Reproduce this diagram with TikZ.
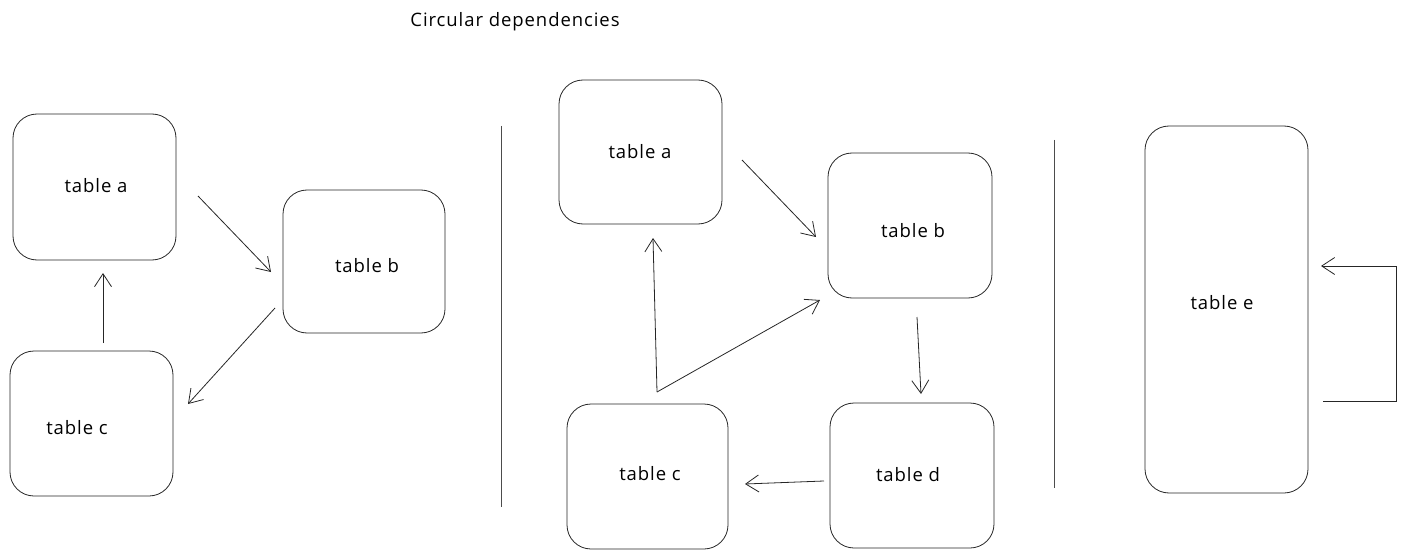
\documentclass[tikz,border=0pt]{standalone}
\usepackage{fontspec}
\setmainfont{Open Sans}[LetterSpace=5]
\usetikzlibrary{arrows.meta}
\begin{document}
\begin{tikzpicture}[x=1pt,y=-1pt,
  tbl/.style={draw=black!85,line width=0.8pt,rounded corners=24pt,inner sep=0pt},
  lbl/.style={font=\fontsize{18.5}{22}\selectfont},
  conn/.style={draw=black!85,line width=0.8pt,-{Straight Barb[length=13pt,width=17pt,line width=0.8pt]}},
  divider/.style={draw=black!70,line width=0.8pt}]
\useasboundingbox (0,0) rectangle (1406,559);
\node[lbl] (title) at (515,22) {Circular dependencies};
% left group
\draw[tbl] (13,114) rectangle (176,260);
\node[lbl] (la) at (96,186) {table a};
\draw[tbl] (283,190) rectangle (445,333);
\node[lbl] (lb) at (367,266) {table b};
\draw[tbl] (10,351) rectangle (173,496);
\node[lbl] (lc) at (77,428) {table c};
\coordinate (la1) at (198,196); \coordinate (la2) at (271,272);
\coordinate (lb1) at (275,308); \coordinate (lb2) at (188,404);
\coordinate (lc1) at (103,343); \coordinate (lc2) at (103,273);
\draw[conn] (la1) -- (la2);
\draw[conn] (lb1) -- (lb2);
\draw[conn] (lc1) -- (lc2);
\coordinate (d1t) at (501,126); \coordinate (d1b) at (501,507);
\draw[divider] (d1t) -- (d1b);
% middle group
\draw[tbl] (559,80) rectangle (722,224);
\node[lbl] (ma) at (640,152) {table a};
\draw[tbl] (828,153) rectangle (992,298);
\node[lbl] (mb) at (913,231) {table b};
\draw[tbl] (567,404) rectangle (728,549);
\node[lbl] (mc) at (650,474) {table c};
\draw[tbl] (830,403) rectangle (994,548);
\node[lbl] (md) at (908,475) {table d};
\coordinate (ma1) at (742,160); \coordinate (ma2) at (816,237);
\coordinate (mb1) at (917,317); \coordinate (mb2) at (921,394);
\coordinate (md1) at (824,481); \coordinate (md2) at (745,484);
\coordinate (mc1) at (657,392); \coordinate (mc2) at (653,238);
\coordinate (mc3) at (820,300);
\draw[conn] (ma1) -- (ma2);
\draw[conn] (mb1) -- (mb2);
\draw[conn] (md1) -- (md2);
\draw[conn] (mc1) -- (mc2);
\draw[conn] (mc1) -- (mc3);
\coordinate (d2t) at (1054,140); \coordinate (d2b) at (1054,488);
\draw[divider] (d2t) -- (d2b);
% right group
\draw[tbl] (1145,126) rectangle (1308,493);
\node[lbl] (re) at (1222,303) {table e};
\coordinate (re1) at (1323,401); \coordinate (re2) at (1396,401);
\coordinate (re3) at (1396,266); \coordinate (re4) at (1321,266);
\draw[conn,rounded corners=0pt] (re1) -- (re2) -- (re3) -- (re4);
\end{tikzpicture}
\end{document}
